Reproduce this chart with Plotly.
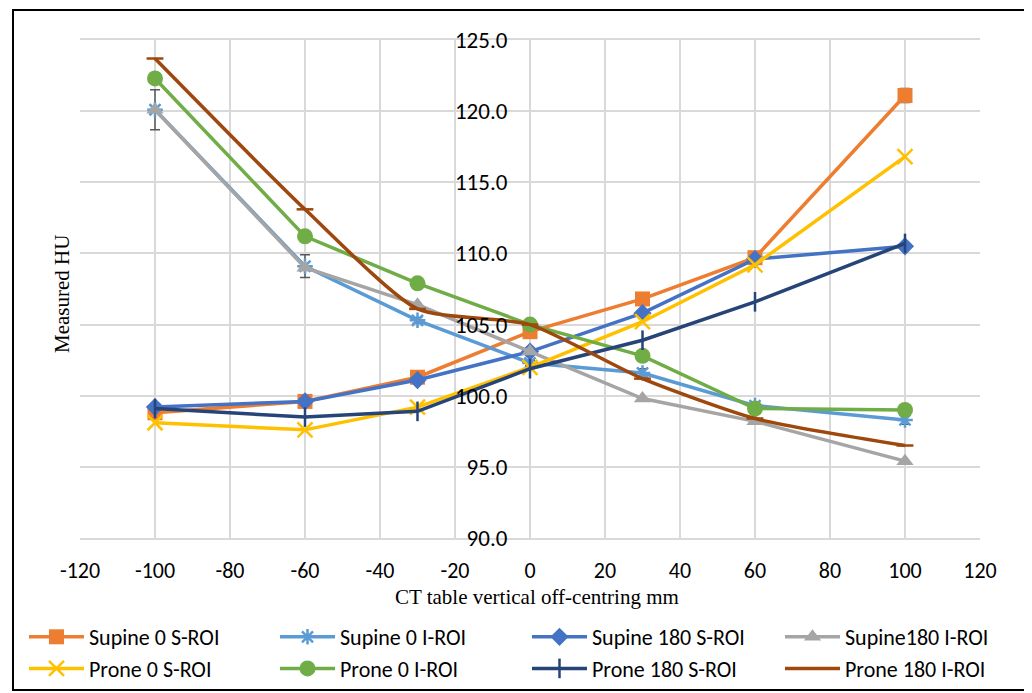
import plotly.graph_objects as go

x_vals = [-100, -60, -30, 0, 30, 60, 100]

supine0_s = [98.8, 99.6, 101.3, 104.5, 106.8, 109.7, 121.1]
supine0_i = [120.1, 109.1, 105.3, 102.3, 101.6, 99.3, 98.3]
supine180_s = [99.2, 99.6, 101.1, 103.1, 105.8, 109.6, 110.5]
supine180_i = [120.1, 109.0, 106.4, 103.1, 99.8, 98.2, 95.4]
prone0_s = [98.1, 97.6, 99.2, 102.0, 105.2, 109.2, 116.8]
prone0_i = [122.3, 111.2, 107.9, 105.0, 102.8, 99.1, 99.0]
prone180_s = [99.1, 98.5, 98.9, 101.9, 103.9, 106.6, 110.7]
prone180_i = [123.7, 113.1, 106.1, 105.0, 101.2, 98.4, 96.5]

err_supine0_i = [1.4, 0.8, 0.2, 0.2, 0.3, 0.2, 0.3]
err_supine0_s = [0.0, 0.0, 0.0, 0.0, 0.0, 0.0, 0.5]

names = ["Supine 0 S-ROI", "Supine 0 I-ROI", "Supine 180 S-ROI", "Supine180 I-ROI",
         "Prone 0 S-ROI", "Prone 0 I-ROI", "Prone 180 S-ROI", "Prone 180 I-ROI"]

x_tickvals = [-120, -100, -80, -60, -40, -20, 0, 20, 40, 60, 80, 100, 120]
x_ticktext = ["-120", "-100", "-80", "-60", "-40", "-20", "0", "20", "40", "60", "80", "100", "120"]
y_tickvals = [90, 95, 100, 105, 110, 115, 120, 125]
y_ticktext = ["90.0", "95.0", "100.0", "105.0", "110.0", "115.0", "120.0", "125.0"]

series = [supine0_s, supine0_i, supine180_s, supine180_i, prone0_s, prone0_i, prone180_s, prone180_i]
colors = ["#ED7D31", "#5B9BD5", "#4472C4", "#A5A5A5", "#FFC000", "#70AD47", "#264478", "#9E480E"]
symbols = ["square", "asterisk-open", "diamond", "triangle-up", "x-thin-open", "circle", "line-ns-open", "line-ew-open"]
msizes = [15, 13, 14, 15, 15, 16, 14, 12]
errors = [err_supine0_s, err_supine0_i, None, None, None, None, None, None]
legend_ids = ["legend", "legend2", "legend3", "legend4"]

SANS = "Carlito, Lato, sans-serif"
SERIF = "'Liberation Serif', 'DejaVu Serif', serif"

fig = go.Figure()
for i, (nm, ys) in enumerate(zip(names, series)):
    col = colors[i]
    sym = symbols[i]
    open_sym = sym.endswith("open")
    marker = dict(symbol=sym, size=msizes[i], color=col,
                  line=dict(color=col, width=2.5 if open_sym else 0))
    tr = dict(x=x_vals, y=ys, name=nm, mode="lines+markers",
              line=dict(color=col, width=3.5,
                        shape="spline" if i == 7 else "linear",
                        smoothing=0.6 if i == 7 else None),
              marker=marker, legend=legend_ids[i % 4], legendgroup=nm)
    if errors[i] is not None:
        tr["error_y"] = dict(type="data", array=errors[i], visible=True,
                             color="#595959", thickness=1.5, width=5)
    fig.add_trace(go.Scatter(**tr))

# page has an 8px body offset; work in screen pixels
OFF = 8
W, H = 1032, 693
L, T = 80 - OFF, 40 - OFF
pw, ph = 900, 498
R, B = W - L - pw, H - T - ph

def px(xs):
    return (xs - OFF - L) / pw

def py(ys):
    return (T + ph - (ys - OFF)) / ph

legend_common = dict(orientation="v", xanchor="left", yanchor="top",
                     font=dict(family=SANS, size=22, color="#000000"),
                     itemwidth=55, tracegroupgap=0, bgcolor="rgba(0,0,0,0)",
                     borderwidth=0)
col_x = [24, 275, 527, 780]
legends = {}
for k, lid in enumerate(legend_ids):
    legends[lid] = dict(legend_common, x=px(col_x[k]), y=py(616))

fig.update_layout(
    width=W, height=H,
    margin=dict(l=L, r=R, t=T, b=B, autoexpand=False),
    paper_bgcolor="white", plot_bgcolor="white",
    showlegend=True,
    xaxis=dict(range=[-120, 120], tickvals=x_tickvals, ticktext=x_ticktext,
               showgrid=True, gridcolor="#D9D9D9", gridwidth=1.5,
               zeroline=False, showline=True, linecolor="#D9D9D9", linewidth=1.5, mirror=True,
               ticks="outside", ticklen=12, tickcolor="rgba(0,0,0,0)",
               tickfont=dict(family=SANS, size=22, color="#000000")),
    yaxis=dict(range=[90, 125], tickvals=y_tickvals, ticktext=y_ticktext,
               anchor="free", position=0.5, side="left",
               showgrid=True, gridcolor="#D9D9D9", gridwidth=1.5,
               zeroline=False, showline=False,
               ticks="outside", ticklen=18, tickcolor="rgba(0,0,0,0)",
               tickfont=dict(family=SANS, size=23, color="#000000")),
    shapes=[dict(type="rect", xref="paper", yref="paper",
                 x0=px(13), x1=px(1026), y0=py(690), y1=py(10),
                 line=dict(color="#000000", width=2), fillcolor="rgba(0,0,0,0)", layer="below")],
    annotations=[
        dict(text="Measured HU", xref="paper", yref="paper", x=px(62), y=py(294),
             textangle=-90, showarrow=False, xanchor="center", yanchor="middle",
             font=dict(family=SERIF, size=21, color="#000000")),
        dict(text="CT table vertical off-centring mm", xref="paper", yref="paper",
             x=px(537), y=py(597), showarrow=False, xanchor="center", yanchor="middle",
             font=dict(family=SERIF, size=21, color="#000000")),
    ],
    **legends,
)

fig.write_html("out.html")
